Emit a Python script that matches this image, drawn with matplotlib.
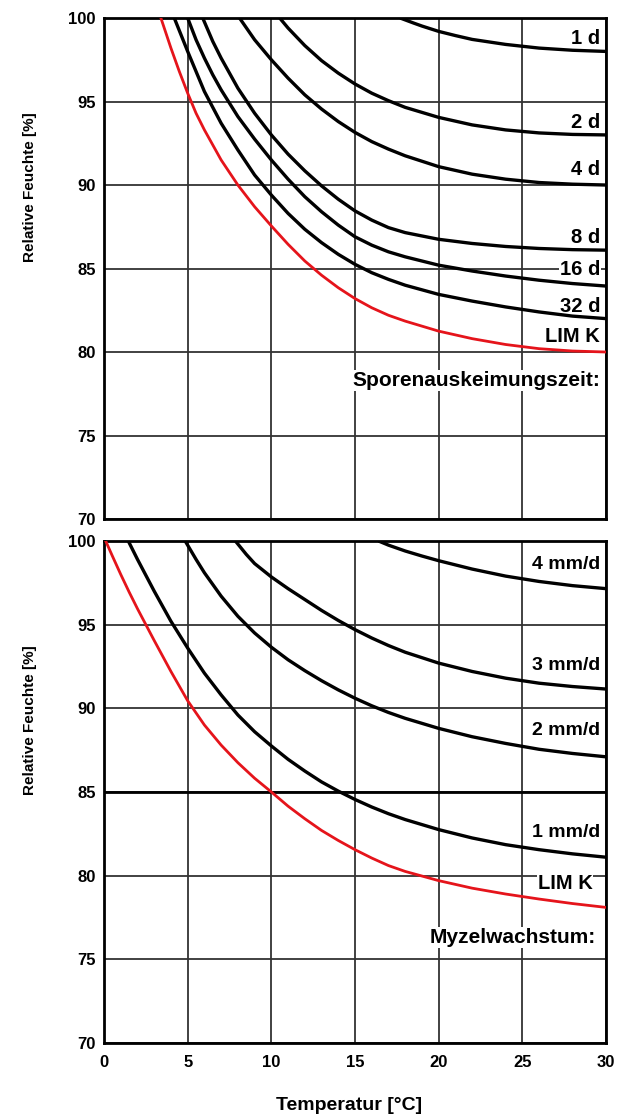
import matplotlib
matplotlib.use("Agg")
import matplotlib.pyplot as plt

plt.rcParams['font.family'] = ['Liberation Sans', 'DejaVu Sans']
plt.rcParams['font.weight'] = 'bold'

# Sporenauskeimungszeit (isoplethes, top panel)
t_1d = [17.7, 18.5, 19, 20, 21, 22, 24, 26, 28, 30]
rh_1d = [100, 99.7, 99.52, 99.2, 98.95, 98.72, 98.42, 98.2, 98.07, 98.0]

t_2d = [10.5, 11, 12, 13, 14, 15, 16, 17, 18, 20, 22, 24, 26, 28, 30]
rh_2d = [100, 99.4, 98.35, 97.45, 96.7, 96.05, 95.5, 95.05, 94.65, 94.05, 93.6, 93.3, 93.12, 93.03, 93.0]

t_4d = [8.1, 9, 10, 11, 12, 13, 14, 15, 16, 17, 18, 20, 22, 24, 26, 28, 30]
rh_4d = [100, 98.7, 97.5, 96.4, 95.4, 94.55, 93.8, 93.15, 92.6, 92.15, 91.75, 91.1, 90.65, 90.35, 90.15, 90.05, 90.0]

t_8d = [5.9, 6.5, 7, 7.5, 8, 9, 10, 11, 12, 13, 14, 15, 16, 17, 18, 20, 22, 24, 26, 28, 30]
rh_8d = [100, 98.6, 97.6, 96.7, 95.8, 94.3, 93.0, 91.85, 90.85, 89.95, 89.15, 88.45, 87.9, 87.45, 87.15,
         86.75, 86.5, 86.32, 86.2, 86.13, 86.1]

t_16d = [5.0, 5.5, 6, 6.5, 7, 8, 9, 10, 11, 12, 13, 14, 15, 16, 17, 18, 20, 22, 24, 26, 28, 30]
rh_16d = [100, 98.7, 97.6, 96.6, 95.7, 94.1, 92.75, 91.5, 90.35, 89.3, 88.4, 87.6, 86.9, 86.4, 86.0, 85.7,
          85.2, 84.85, 84.55, 84.3, 84.1, 83.95]

t_32d = [4.2, 5, 6, 7, 8, 9, 10, 11, 12, 13, 14, 15, 16, 17, 18, 20, 22, 24, 26, 28, 30]
rh_32d = [100, 98.0, 95.6, 93.7, 92.1, 90.6, 89.4, 88.3, 87.35, 86.55, 85.85, 85.25, 84.75, 84.35, 84.0,
          83.45, 83.05, 82.7, 82.4, 82.15, 82.0]

t_limk_a = [3.4, 4, 4.5, 5, 5.5, 6, 7, 8, 9, 10, 11, 12, 13, 14, 15, 16, 17, 18, 20, 22, 24, 26, 28, 30]
rh_limk_a = [100, 98.2, 96.8, 95.5, 94.3, 93.3, 91.5, 90.0, 88.7, 87.55, 86.45, 85.45, 84.6, 83.85, 83.2,
             82.65, 82.2, 81.85, 81.25, 80.8, 80.45, 80.2, 80.06, 80.0]

# Myzelwachstum (bottom panel)
t_4mm = [16.4, 17, 18, 19, 20, 22, 24, 26, 28, 30]
rh_4mm = [100, 99.75, 99.4, 99.1, 98.82, 98.32, 97.9, 97.58, 97.33, 97.15]

t_3mm = [7.85, 8.5, 9, 10, 11, 12, 13, 14, 15, 16, 17, 18, 20, 22, 24, 26, 28, 30]
rh_3mm = [100, 99.2, 98.65, 97.85, 97.15, 96.5, 95.85, 95.25, 94.7, 94.2, 93.75, 93.35, 92.7, 92.2, 91.8,
          91.5, 91.3, 91.15]

t_2mm = [4.85, 5.5, 6, 7, 8, 9, 10, 11, 12, 13, 14, 15, 16, 17, 18, 20, 22, 24, 26, 28, 30]
rh_2mm = [100, 98.9, 98.1, 96.7, 95.5, 94.5, 93.65, 92.9, 92.25, 91.65, 91.1, 90.6, 90.15, 89.75, 89.4,
          88.8, 88.3, 87.9, 87.55, 87.3, 87.1]

t_1mm = [1.45, 2, 3, 4, 5, 6, 7, 8, 9, 10, 11, 12, 13, 14, 15, 16, 17, 18, 20, 22, 24, 26, 28, 30]
rh_1mm = [100, 98.9, 97.0, 95.2, 93.6, 92.1, 90.8, 89.6, 88.6, 87.75, 86.95, 86.25, 85.6, 85.05, 84.55,
          84.1, 83.7, 83.35, 82.75, 82.25, 81.85, 81.55, 81.3, 81.1]

t_limk_b = [0.1, 0.5, 1, 1.5, 2, 3, 4, 5, 6, 7, 8, 9, 10, 11, 12, 13, 14, 15, 16, 17, 18, 20, 22, 24, 26, 28, 30]
rh_limk_b = [100, 99.1, 98.0, 96.95, 95.95, 94.05, 92.2, 90.45, 89.0, 87.8, 86.75, 85.82, 85.0, 84.15,
             83.4, 82.7, 82.1, 81.55, 81.05, 80.6, 80.25, 79.7, 79.25, 78.9, 78.6, 78.33, 78.1]

top_curves = [(t_1d, rh_1d), (t_2d, rh_2d), (t_4d, rh_4d), (t_8d, rh_8d),
              (t_16d, rh_16d), (t_32d, rh_32d)]
top_labels = ['1 d', '2 d', '4 d', '8 d', '16 d', '32 d', 'LIM K']
top_label_y = [98.8, 93.75, 90.95, 86.85, 84.95, 82.75, 80.9]

bottom_curves = [(t_4mm, rh_4mm), (t_3mm, rh_3mm), (t_2mm, rh_2mm), (t_1mm, rh_1mm)]
bottom_labels = ['4 mm/d', '3 mm/d', '2 mm/d', '1 mm/d']
bottom_label_y = [98.6, 92.55, 88.65, 82.6]

x_ticks = [0, 5, 10, 15, 20, 25, 30]
y_ticks = [70, 75, 80, 85, 90, 95, 100]

RED = '#e5141b'

fig = plt.figure(figsize=(6.18, 11.2), dpi=100)
ax_top = fig.add_axes([0.1683, 0.5366, 0.8123, 0.4473])
ax_bot = fig.add_axes([0.1683, 0.0688, 0.8123, 0.4482])


def setup(ax, show_x, label_y):
    ax.set_xlim(0, 30)
    ax.set_ylim(70, 100)
    ax.set_xticks(x_ticks)
    ax.set_yticks(y_ticks)
    ax.grid(True, color='#333333', linewidth=1.3)
    ax.set_axisbelow(True)
    for s in ax.spines.values():
        s.set_linewidth(2.0)
        s.set_color('black')
    ax.tick_params(length=0, labelsize=12, pad=6)
    ax.tick_params(axis='x', pad=9)
    ax.set_ylabel('Relative Feuchte [%]', fontsize=11, fontweight='bold')
    ax.yaxis.set_label_coords(-0.133, label_y)
    if show_x:
        ax.set_xlabel('Temperatur [°C]', fontsize=14, fontweight='bold')
        ax.xaxis.set_label_coords(0.488, -0.108)
    else:
        ax.set_xticklabels([])


def put(ax, x, y, txt, size=14.5):
    # white box hides the grid behind the text, curves stay on top
    ax.text(x, y, txt, ha='right', va='center', fontsize=size, fontweight='bold',
            bbox=dict(facecolor='white', edgecolor='none', pad=0.6), zorder=2.5)


setup(ax_top, False, 0.663)
for t, rh in top_curves:
    ax_top.plot(t, rh, color='black', linewidth=2.4, solid_capstyle='butt', zorder=3)
ax_top.plot(t_limk_a, rh_limk_a, color=RED, linewidth=2.0, zorder=3)
for txt, y in zip(top_labels, top_label_y):
    put(ax_top, 29.65, y, txt)
put(ax_top, 29.65, 78.3, 'Sporenauskeimungszeit:', 15)

setup(ax_bot, True, 0.643)
# the 85 % line is drawn heavier in this panel
ax_bot.axhline(85, color='black', linewidth=2.0, zorder=1)
for t, rh in bottom_curves:
    ax_bot.plot(t, rh, color='black', linewidth=2.4, solid_capstyle='butt', zorder=3)
ax_bot.plot(t_limk_b, rh_limk_b, color=RED, linewidth=2.0, zorder=3)
for txt, y in zip(bottom_labels, bottom_label_y):
    put(ax_bot, 29.65, y, txt, 14)
put(ax_bot, 29.2, 79.5, 'LIM K')
put(ax_bot, 29.4, 76.3, 'Myzelwachstum:', 15)

fig.savefig('out.png', dpi=100, facecolor='white')
